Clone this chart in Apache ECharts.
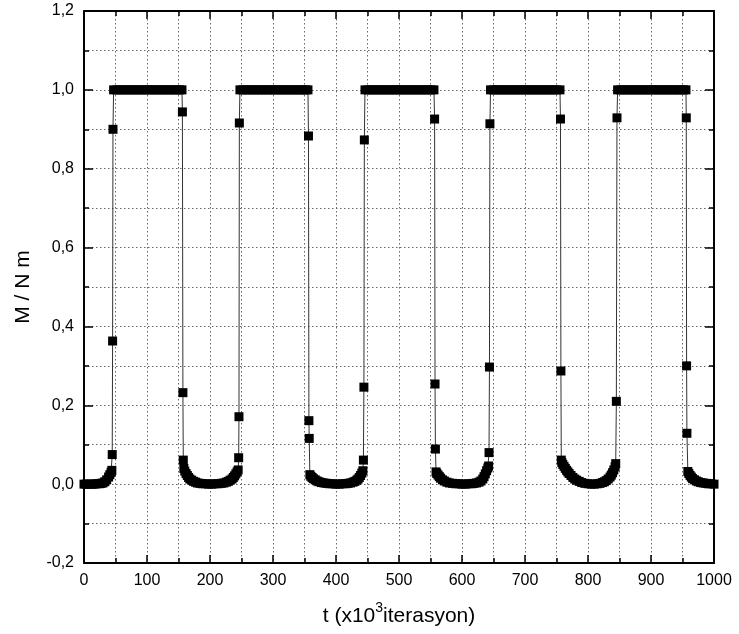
<!DOCTYPE html>
<html>
<head>
<meta charset="utf-8">
<script src="https://cdn.jsdelivr.net/npm/echarts@6/dist/echarts.min.js"></script>
<style>
  html, body { margin: 0; padding: 0; background: #fff; }
  #chart { width: 739px; height: 634px; }
</style>
</head>
<body>
<div id="chart"></div>
<script>
// Magnetisation ratio M / N m against time (in thousands of iterations).
// Each phase is a list of [t, M/Nm] samples.
const lowStart = [[0,0.000],[4,0.000],[8,0.000],[12,0.000],[16,0.000],[20,0.001],[24,0.001],[27,0.002],[30,0.003],[33,0.006],[36,0.011],[39,0.018],[41,0.024],[43,0.030],[44.2,0.035]];
const rise1 = [[44.8,0.075],[45.4,0.363],[46.0,0.900]];
const high1 = [[47,1],[52,1],[57,1],[62,1],[67,1],[72,1],[77,1],[82,1],[87,1],[92,1],[97,1],[102,1],[107,1],[112,1],[117,1],[122,1],[127,1],[132,1],[137,1],[142,1],[147,1],[152,1],[155.5,1]];
const fall1 = [[156.2,0.944],[157.0,0.232],[157.6,0.061]];
const low1 = [[158.5,0.040],[160,0.033],[162,0.027],[164,0.022],[166,0.017],[168,0.013],[171,0.010],[174,0.007],[177,0.005],[180,0.003],[184,0.002],[188,0.001],[193,0.001],[198,0.000],[203,0.000],[208,0.001],[213,0.001],[218,0.002],[222,0.003],[226,0.005],[229,0.007],[232,0.010],[235,0.013],[237,0.017],[239,0.021],[241,0.026],[243,0.031],[244.7,0.036]];
const rise2 = [[245.5,0.067],[246.0,0.171],[246.6,0.916]];
const high2 = [[247.5,1],[252,1],[257,1],[262,1],[267,1],[272,1],[277,1],[282,1],[287,1],[292,1],[297,1],[302,1],[307,1],[312,1],[317,1],[322,1],[327,1],[332,1],[337,1],[342,1],[347,1],[352,1],[355.5,1]];
const fall2 = [[356.3,0.883],[357.0,0.161],[357.5,0.116]];
const low2 = [[358.5,0.024],[360,0.020],[362,0.017],[364,0.014],[367,0.011],[370,0.008],[373,0.006],[377,0.004],[381,0.003],[385,0.002],[390,0.001],[395,0.001],[400,0.000],[405,0.000],[410,0.001],[415,0.001],[419,0.002],[423,0.003],[427,0.005],[430,0.007],[433,0.010],[435,0.013],[437,0.017],[439,0.022],[441,0.028],[442.7,0.034]];
const rise3 = [[443.5,0.061],[444.3,0.246],[445.0,0.873]];
const high3 = [[446,1],[451,1],[456,1],[461,1],[466,1],[471,1],[476,1],[481,1],[486,1],[491,1],[496,1],[501,1],[506,1],[511,1],[516,1],[521,1],[526,1],[531,1],[536,1],[541,1],[546,1],[551,1],[555.5,1]];
const fall3 = [[556.5,0.926],[557.2,0.254],[557.8,0.089]];
const low3 = [[558.8,0.031],[560,0.027],[562,0.023],[564,0.019],[566,0.015],[569,0.011],[572,0.008],[576,0.005],[580,0.003],[585,0.002],[590,0.001],[595,0.001],[600,0.000],[605,0.000],[610,0.001],[615,0.001],[619,0.002],[623,0.003],[627,0.005],[630,0.008],[633,0.013],[635,0.019],[637,0.026],[639,0.034],[641,0.041],[642.2,0.046]];
const rise4 = [[642.9,0.080],[643.6,0.297],[644.3,0.914]];
const high4 = [[645.3,1],[650,1],[655,1],[660,1],[665,1],[670,1],[675,1],[680,1],[685,1],[690,1],[695,1],[700,1],[705,1],[710,1],[715,1],[720,1],[725,1],[730,1],[735,1],[740,1],[745,1],[750,1],[755.5,1]];
const fall4 = [[756.3,0.926],[757.0,0.287],[757.6,0.061]];
const low4 = [[758.5,0.055],[760,0.050],[762,0.045],[764,0.040],[766,0.035],[768,0.031],[770,0.027],[773,0.022],[776,0.017],[779,0.013],[782,0.010],[786,0.007],[790,0.004],[795,0.002],[800,0.001],[805,0.000],[810,0.000],[815,0.001],[819,0.002],[823,0.004],[826,0.006],[829,0.009],[832,0.013],[835,0.018],[837,0.023],[839,0.029],[841,0.036],[843,0.044]];
const rise5 = [[844.0,0.052],[845.0,0.210],[846.0,0.929]];
const high5 = [[847,1],[852,1],[857,1],[862,1],[867,1],[872,1],[877,1],[882,1],[887,1],[892,1],[897,1],[902,1],[907,1],[912,1],[917,1],[922,1],[927,1],[932,1],[937,1],[942,1],[947,1],[952,1],[955.5,1]];
const fall5 = [[956.0,0.929],[956.5,0.300],[957.0,0.129]];
const low5 = [[958.5,0.032],[960,0.027],[962,0.022],[964,0.018],[966,0.014],[969,0.011],[972,0.008],[975,0.006],[979,0.004],[983,0.003],[987,0.002],[991,0.001],[995,0.001],[1000,0.000]];

const phases = [lowStart, rise1, high1, fall1, low1, rise2, high2, fall2, low2,
                rise3, high3, fall3, low3, rise4, high4, fall4, low4, rise5, high5, fall5, low5];
const samples = [].concat(...phases);

const xTickLabels = ['0','100','200','300','400','500','600','700','800','900','1000'];

const FONT = '"Liberation Sans", Arial, sans-serif';
const dotted = { type: [1.5, 2.5], color: '#666', width: 1 };
const frameLine = { show: true, onZero: false, lineStyle: { color: '#000', width: 2 } };
const majorTick = { show: true, inside: true, length: 8, lineStyle: { color: '#000', width: 1.5 } };
const minorTick = { show: true, splitNumber: 2, length: 5, lineStyle: { color: '#000', width: 1.5 } };

function yLabel(v) {
  const s = (Math.round(v * 10) / 10).toFixed(1).replace('.', ',');
  return s === '-0,0' ? '0,0' : s;
}

const chart = echarts.init(document.getElementById('chart'), null, { renderer: 'canvas' });
chart.setOption({
  animation: false,
  backgroundColor: '#fff',
  grid: { left: 84, right: 25, top: 11, bottom: 71, containLabel: false },
  xAxis: [{
    type: 'value', min: 0, max: 1000, interval: 100, position: 'bottom',
    axisLine: frameLine,
    axisTick: majorTick,
    minorTick: minorTick,
    splitLine: { show: true, lineStyle: dotted },
    minorSplitLine: { show: true, lineStyle: dotted },
    axisLabel: {
      margin: 10, color: '#000', fontFamily: FONT, fontSize: 16,
      formatter: v => xTickLabels[Math.round(v / 100)]
    },
    name: '{a|t (x10}{s|3}{a|iterasyon)}',
    nameLocation: 'middle', nameGap: 38,
    nameTextStyle: {
      fontFamily: FONT, fontSize: 21, color: '#000',
      rich: {
        a: { fontFamily: FONT, fontSize: 21, color: '#000', lineHeight: 26, verticalAlign: 'bottom' },
        s: { fontFamily: FONT, fontSize: 14, color: '#000', lineHeight: 26, verticalAlign: 'top' }
      }
    }
  }, {
    type: 'value', min: 0, max: 1000, interval: 100, position: 'top',
    axisLine: frameLine,
    axisTick: majorTick,
    minorTick: minorTick,
    splitLine: { show: false },
    axisLabel: { show: false }
  }],
  yAxis: [{
    type: 'value', min: -0.2, max: 1.2, interval: 0.2, position: 'left',
    axisLine: frameLine,
    axisTick: Object.assign({}, majorTick, { length: 9 }),
    minorTick: minorTick,
    splitLine: { show: true, lineStyle: dotted },
    minorSplitLine: { show: true, lineStyle: dotted },
    axisLabel: { margin: 10, color: '#000', fontFamily: FONT, fontSize: 16, formatter: yLabel },
    name: 'M / N m',
    nameLocation: 'middle', nameGap: 50, nameRotate: 90,
    nameTextStyle: { fontFamily: FONT, fontSize: 21, color: '#000' }
  }, {
    type: 'value', min: -0.2, max: 1.2, interval: 0.2, position: 'right',
    axisLine: frameLine,
    axisTick: Object.assign({}, majorTick, { length: 9 }),
    minorTick: minorTick,
    splitLine: { show: false },
    axisLabel: { show: false }
  }],
  series: [{
    type: 'line',
    xAxisIndex: 0, yAxisIndex: 0,
    data: samples,
    symbol: 'rect',
    symbolSize: 9,
    showAllSymbol: true,
    sampling: null,
    clip: false,
    itemStyle: { color: '#000', borderWidth: 0 },
    lineStyle: { color: '#333', width: 1 },
    emphasis: { disabled: true }
  }]
});
</script>
</body>
</html>
